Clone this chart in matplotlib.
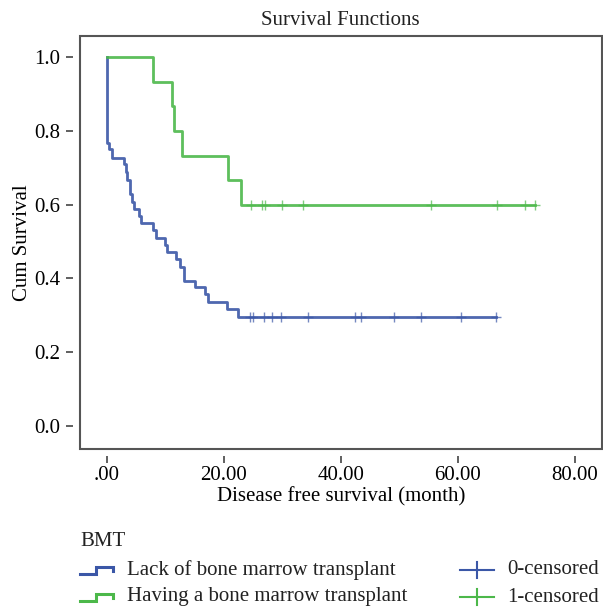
import numpy as np
import matplotlib
matplotlib.use('Agg')
import matplotlib.pyplot as plt
from matplotlib.lines import Line2D
from matplotlib.patches import Rectangle

# 생존함수 데이터
blue_times = [0.0, 0.3, 0.8, 2.9, 3.2, 3.5, 3.9, 4.3, 4.6, 5.5, 5.9, 7.9, 8.4,
              10.0, 10.3, 11.9, 12.5, 13.2, 15.0, 16.8, 17.3, 20.6, 22.4]
blue_surv = [0.768, 0.750, 0.727, 0.710, 0.689, 0.667, 0.630, 0.608, 0.588, 0.570,
             0.550, 0.531, 0.511, 0.492, 0.472, 0.452, 0.432, 0.393, 0.377, 0.358,
             0.337, 0.318, 0.296]
blue_cens = [24.4, 25.0, 26.8, 28.3, 29.7, 34.4, 42.4, 43.5, 49.1, 53.7, 60.5, 66.6]

green_times = [7.9, 11.2, 11.4, 12.8, 20.7, 23.0]
green_surv = [0.933, 0.867, 0.800, 0.733, 0.667, 0.600]
green_cens = [24.6, 26.6, 27.0, 29.9, 33.6, 55.4, 66.7, 71.6, 73.3]

xticks = [0, 20, 40, 60, 80]
xtick_labels = ['.00', '20.00', '40.00', '60.00', '80.00']
yticks = [0.0, 0.2, 0.4, 0.6, 0.8, 1.0]

BLUE = '#3b57a7'
GREEN = '#4cb84a'
FONT = 'Liberation Serif'
FS = 15
W, H = 603, 612

plt.rcParams['font.family'] = FONT
plt.rcParams['text.color'] = '#222222'

fig = plt.figure(figsize=(W / 100, H / 100), dpi=100)
ax = fig.add_axes([80 / W, 1 - 449 / H, (601.5 - 80) / W, (449 - 36) / H])


def draw_curve(times, surv, cens, color):
    xs = [0.0] + list(times) + [max(cens)]
    ys = [1.0] + list(surv) + [surv[-1]]
    ax.step(xs, ys, where='post', color=color, lw=2.0, alpha=0.9)
    # 중도절단 지점의 생존값
    idx = np.searchsorted(times, cens, side='right') - 1
    cy = [surv[i] if i >= 0 else 1.0 for i in idx]
    ax.plot(cens, cy, '+', color=color, ms=7, mew=1.0, alpha=0.7)


draw_curve(blue_times, blue_surv, blue_cens, BLUE)
draw_curve(green_times, green_surv, green_cens, GREEN)

ax.set_xlim(-4.6, 84.6)
ax.set_ylim(-0.062, 1.057)
ax.set_xticks(xticks)
ax.set_xticklabels(xtick_labels)
ax.set_yticks(yticks)
ax.set_yticklabels([f'{v:.1f}' for v in yticks])

# SPSS 스타일: 틱이 프레임에서 조금 떨어져 있음
for s in ['left', 'bottom']:
    ax.spines[s].set_position(('outward', 5))
    ax.spines[s].set_visible(False)
for s in ['top', 'right']:
    ax.spines[s].set_visible(False)
ax.add_patch(Rectangle((0, 0), 1, 1, transform=ax.transAxes, fill=False,
                       edgecolor='#555555', lw=1.5, clip_on=False))
ax.tick_params(direction='out', length=5, width=1.2, color='#444444',
               labelsize=FS)
ax.tick_params(axis='x', pad=2)
ax.tick_params(axis='y', pad=4)

ax.set_title('Survival Functions', fontsize=FS, pad=8)
ax.set_xlabel('Disease free survival (month)', fontsize=FS, labelpad=2)
ax.set_ylabel('Cum Survival', fontsize=FS, labelpad=2)

# 범례 (수동 배치)
def fx(px):
    return px / W


def fy(py):
    return 1 - py / H


fig.text(fx(80), fy(541), 'BMT', fontsize=FS, va='center', ha='left')
rows = [(570, BLUE, 'Lack of bone marrow transplant', '0-censored'),
        (597, GREEN, 'Having a bone marrow transplant', '1-censored')]
for yc, col, lab, clab in rows:
    sx = [80, 96, 96, 113, 113]
    sy = [yc + 4, yc + 4, yc - 3, yc - 3, yc + 1]
    fig.add_artist(Line2D([fx(v) for v in sx], [fy(v) for v in sy],
                          color=col, lw=2.2, solid_joinstyle='miter'))
    fig.text(fx(127), fy(yc), lab, fontsize=FS, va='center', ha='left')
    fig.add_artist(Line2D([fx(460), fx(494)], [fy(yc), fy(yc)], color=col, lw=1.5))
    fig.add_artist(Line2D([fx(477), fx(477)], [fy(yc - 8), fy(yc + 8)], color=col, lw=1.5))
    fig.text(fx(507), fy(yc), clab, fontsize=FS, va='center', ha='left')

fig.savefig('out.png', dpi=100)
